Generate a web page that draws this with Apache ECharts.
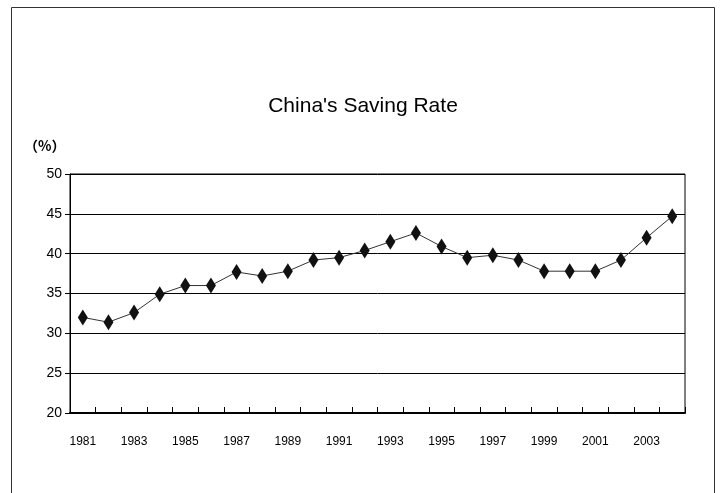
<!DOCTYPE html>
<html>
<head>
<meta charset="utf-8">
<script src="https://cdn.jsdelivr.net/npm/echarts@6/dist/echarts.min.js"></script>
<style>
html,body{margin:0;padding:0;background:#fff;}
#chart{width:726px;height:493px;}
</style>
</head>
<body>
<div id="chart"></div>
<script>
var years = ['1981','1982','1983','1984','1985','1986','1987','1988','1989','1990','1991','1992','1993','1994','1995','1996','1997','1998','1999','2000','2001','2002','2003','2004'];
var savingRate = [32.0,31.4,32.6,34.9,36.0,36.0,37.7,37.2,37.8,39.2,39.5,40.4,41.5,42.6,40.9,39.5,39.8,39.2,37.8,37.8,37.8,39.2,42.0,44.7];
var titleText = "China's Saving Rate";
var unitText = "（%）";

var chart = echarts.init(document.getElementById('chart'), null, {renderer:'canvas'});
var font = "'Liberation Sans Narrow', 'Liberation Sans', Arial, sans-serif";
chart.setOption({
  animation:false,
  backgroundColor:'#fff',
  title:{
    text:titleText, left:'center', top:91,
    textStyle:{fontFamily:"'Liberation Sans', Arial, sans-serif", fontSize:21, fontWeight:'normal', color:'#000'}
  },
  graphic:[
    {type:'rect', shape:{x:11.5,y:7.5,width:703,height:520}, style:{fill:'none', stroke:'#333', lineWidth:1}, silent:true},
    {type:'text', left:24, top:139, style:{text:unitText, font:"bold 14px 'Noto Sans CJK SC', sans-serif", fill:'#000'}}
  ],
  grid:{left:70, right:41, top:174, bottom:80, show:true, borderColor:'#000', borderWidth:1},
  xAxis:{
    type:'category', data:years, boundaryGap:true,
    axisLine:{lineStyle:{color:'#000', width:2}},
    axisTick:{show:true, inside:true, length:6, interval:0, lineStyle:{color:'#000', width:1}},
    axisLabel:{interval:1, margin:23, fontFamily:font, fontSize:12, color:'#000'},
    splitLine:{show:false}
  },
  yAxis:{
    type:'value', min:20, max:50, interval:5,
    axisLine:{show:true, lineStyle:{color:'#000', width:1}},
    axisTick:{show:true, length:5, lineStyle:{color:'#000'}},
    axisLabel:{margin:8, fontFamily:font, fontSize:14, color:'#000'},
    splitLine:{show:true, lineStyle:{color:'#000', width:1}}
  },
  series:[{
    type:'line', data:savingRate,
    symbol:'diamond', symbolSize:[10,16],
    itemStyle:{color:'#111'},
    lineStyle:{color:'#333', width:1}
  }]
});
</script>
</body>
</html>
